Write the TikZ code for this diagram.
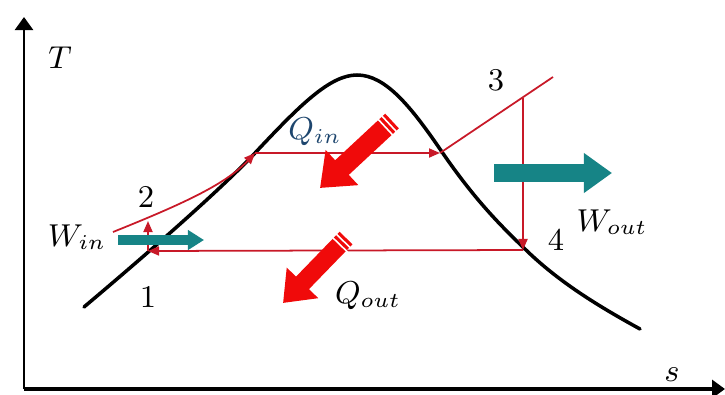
\documentclass[tikz,border=0pt]{standalone}
\usepackage{tikz}
\usetikzlibrary{arrows.meta, calc}

\definecolor{cycred}{RGB}{200,25,40}
\definecolor{heatred}{RGB}{240,10,10}
\definecolor{workteal}{RGB}{22,132,134}
\definecolor{qblue}{RGB}{30,70,110}

\begin{document}
\begin{tikzpicture}[
  x=0.01cm, y=-0.01cm,
  font=\fontsize{9}{10}\selectfont,
  axis/.style={line width=0.7pt, -{Triangle[length=0.13cm, width=0.18cm]}},
  dome/.style={line width=1pt, line cap=round},
  cyc/.style={cycred, line width=0.5pt},
  cyca/.style={cyc, -{Triangle[length=0.11cm, width=0.09cm]}},
  work/.style={workteal},
  heat/.style={heatred},
  stripe/.style={white, line width=0.45pt},
  lbl/.style={inner sep=0pt}
]
\useasboundingbox (0,0) rectangle (725,394);

% axes
\coordinate (o) at (24,389);
\coordinate (ytop) at (24,17);
\coordinate (xend) at (725,389);
\draw[axis] (o) -- (ytop);
\draw[axis, line width=0.9pt] (o) -- (xend);
\node[lbl] (tlab) at (60,58) {$T$};
\node[lbl] (slab) at (672,375) {$s$};

% saturation dome
\draw[dome] (84,307) .. controls (160,243) and (225,185) .. (255,153)
  .. controls (300,105) and (330,75) .. (357,75)
  .. controls (385,75) and (410,105) .. (442,152)
  .. controls (475,200) and (500,225) .. (526,250)
  .. controls (560,283) and (600,307) .. (640,329);

% cycle states
\coordinate (p1) at (148,251);
\coordinate (p2) at (148,221);
\coordinate (c2) at (113,232);
\coordinate (sl) at (255,153);
\coordinate (sv) at (440,153);
\coordinate (p3) at (523,98);
\coordinate (c3) at (553,77);
\coordinate (p4) at (523,250);

\draw[cyca] (p1) -- (p2);
\draw[cyca] (c2) .. controls (180,205) and (225,185) .. (sl);
\draw[cyca] (sl) -- (sv);
\draw[cyc] (sv) -- (c3);
\draw[cyca] (p3) -- (p4);
\draw[cyca] (p4) -- (p1);

\node[lbl] (n1) at (148,297) {1};
\node[lbl] (n2) at (146,197) {2};
\node[lbl] (n3) at (496,80) {3};
\node[lbl] (n4) at (556,240) {4};

% work arrows
\coordinate (wi-t) at (118,240);
\coordinate (wi-h) at (204,240);
\draw[work, line width=0.1cm, -{Triangle[length=0.16cm, width=0.19cm]}] (wi-t) -- (wi-h);
\coordinate (wo-t) at (494,173);
\coordinate (wo-h) at (612,173);
\draw[work, line width=0.18cm, -{Triangle[length=0.28cm, width=0.38cm]}] (wo-t) -- (wo-h);
\node[lbl] (win) at (77,237) {$W_{in}$};
\node[lbl] (wout) at (612,222) {$W_{out}$};

% heat arrows
\coordinate (qi-t) at (392,121);
\coordinate (qi-h) at (320,188);
\draw[heat, line width=0.2cm, -{Triangle[length=0.3cm, width=0.46cm]}] (qi-t) -- (qi-h);
\foreach \d in {0.04cm, 0.09cm}
  \draw[stripe] ($($(qi-t)!\d!(qi-h)$)!0.12cm!90:(qi-h)$) -- ($($(qi-t)!\d!(qi-h)$)!0.12cm!-90:(qi-h)$);
\node[lbl, qblue] (qin) at (315,132) {$Q_{in}$};

\coordinate (qo-t) at (346,238);
\coordinate (qo-h) at (283,303);
\draw[heat, line width=0.18cm, -{Triangle[length=0.28cm, width=0.42cm]}] (qo-t) -- (qo-h);
\foreach \d in {0.04cm, 0.09cm}
  \draw[stripe] ($($(qo-t)!\d!(qo-h)$)!0.11cm!90:(qo-h)$) -- ($($(qo-t)!\d!(qo-h)$)!0.11cm!-90:(qo-h)$);
\node[lbl] (qout) at (368,296) {$Q_{out}$};
\end{tikzpicture}
\end{document}
